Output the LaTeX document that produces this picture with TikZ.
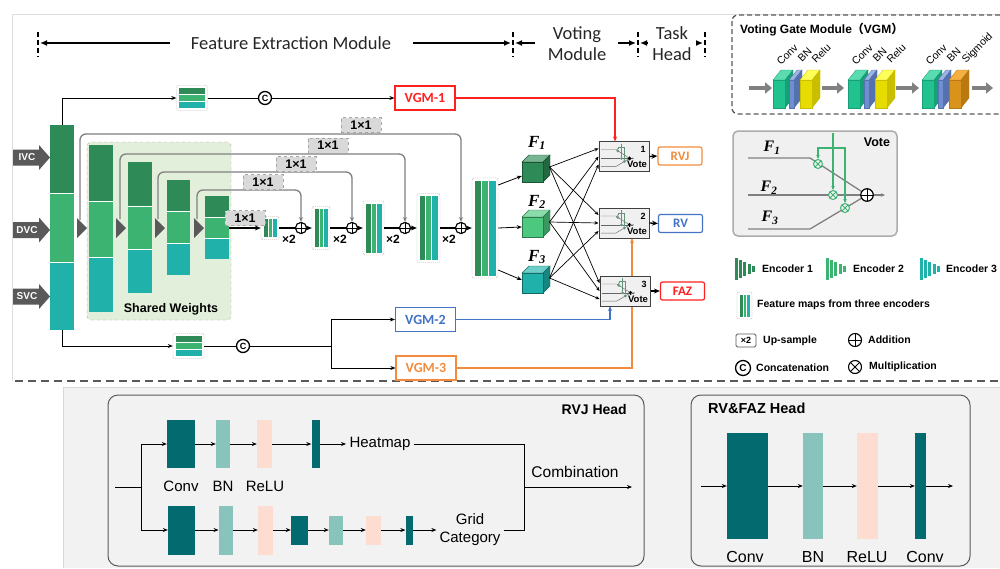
\documentclass[tikz,border=0pt]{standalone}
\usepackage{fontspec}
\setmainfont{Liberation Sans}
\newfontfamily\calfont{Carlito}
\newfontfamily\tnrfont{Liberation Serif}
\newfontfamily\cjkfont{Noto Sans CJK SC}
\usetikzlibrary{arrows.meta,calc}
\definecolor{dg}{HTML}{2E8B57}
\definecolor{mg}{HTML}{3CB371}
\definecolor{tl}{HTML}{20B2AA}
\definecolor{fg}{HTML}{4CC97E}
\definecolor{ag}{HTML}{595959}
\definecolor{sk}{HTML}{7F7F7F}
\definecolor{swf}{HTML}{E2EFDA}
\definecolor{obox}{HTML}{D9D9D9}
\definecolor{vred}{HTML}{FF2020}
\definecolor{vblue}{HTML}{4472C4}
\definecolor{vorange}{HTML}{F28C3C}
\definecolor{vg}{HTML}{3CB371}
\definecolor{hdk}{HTML}{036B70}
\definecolor{hlt}{HTML}{88C4BC}
\definecolor{hpk}{HTML}{FDDCD2}
\definecolor{bgp}{HTML}{F2F2F2}
\definecolor{cv}{HTML}{21C28E}
\definecolor{cvt}{HTML}{5ADBB0}
\definecolor{cvs}{HTML}{17A077}
\definecolor{bn}{HTML}{6F8FD0}
\definecolor{bnt}{HTML}{9DB3E3}
\definecolor{bns}{HTML}{5572AE}
\definecolor{rl}{HTML}{E6DC00}
\definecolor{rlt}{HTML}{FFFF5A}
\definecolor{rls}{HTML}{C9BF00}
\definecolor{sg}{HTML}{D9931A}
\definecolor{sgt}{HTML}{F5B041}
\definecolor{sgs}{HTML}{B87A10}

\newcommand{\fmap}[5]{%
  \node[fmbox, minimum width=#4pt, minimum height=#5pt] (#1) at (#2,#3) {};
  \pgfmathsetmacro{\fmX}{#2-#4/2+2.5}%
  \pgfmathsetmacro{\fmW}{(#4-5)/3}%
  \pgfmathsetmacro{\fmY}{#3-#5/2+2.5}%
  \pgfmathsetmacro{\fmH}{#5-5}%
  \fill[dg] (\fmX,\fmY) rectangle ++(\fmW,\fmH);
  \fill[mg] (\fmX+\fmW,\fmY) rectangle ++(\fmW,\fmH);
  \fill[tl] (\fmX+2*\fmW,\fmY) rectangle ++(\fmW,\fmH);
  \draw[white, line width=0.5pt] (\fmX+\fmW,\fmY) -- ++(0,\fmH) (\fmX+2*\fmW,\fmY) -- ++(0,\fmH);
}
\newcommand{\ladder}[3]{%
  \node[fmbox, minimum width=31pt, minimum height=25pt] (#1) at (#2,#3) {};
  \fill[dg] (#2-13,#3-10) rectangle (#2+13,#3-3.8);
  \fill[mg] (#2-13,#3-3.2) rectangle (#2+13,#3+3.2);
  \fill[tl] (#2-13,#3+3.8) rectangle (#2+13,#3+10);
}
\newcommand{\fcube}[4]{%
  \pgfmathsetmacro{\cL}{#2-10.5}\pgfmathsetmacro{\cR}{#2+10.5}%
  \pgfmathsetmacro{\cT}{#3-10}\pgfmathsetmacro{\cB}{#3+10}%
  \fill[#4!65!white, draw=#4!60!black, line width=0.4pt] (\cL,\cT) -- ++(7,-7) -- ++(21,0) -- (\cR,\cT) -- cycle;
  \fill[#4!75!black, draw=#4!60!black, line width=0.4pt] (\cR,\cT) -- ++(7,-7) -- ++(0,20) -- (\cR,\cB) -- cycle;
  \node[draw=#4!60!black, fill=#4, minimum width=21pt, minimum height=20pt, inner sep=0pt, line width=0.4pt] (#1) at (#2,#3) {};
  \coordinate (#1o) at (#2+17,#3-5);
}
\newcommand{\votecontent}{%
  \draw[vln] (0,25) -- (62,25) -- (119,62);
  \draw[vln] (0,62) -- (119,62);
  \draw[vln] (0,96) -- (62,96) -- (119,62);
  \draw[vln,vtip] (119,62) -- (137,62);
  \draw[vgl,vtip] (85,0) -- (85,57);
  \draw[vgl,vtip] (85,15) -- (70,15) -- (70,26);
  \draw[vgl,vtip] (85,15) -- (97,15) -- (97,70);
  \node[vml] at (70,31) {};
  \node[vml] at (85,62) {};
  \node[vml] at (97,75) {};
  \node[vpl] at (119,62) {};
}
\newcommand{\votebx}[4]{%
  \node[votebox] (#1) at (#2,#3) {};
  \begin{scope}[shift={(#2-23,#3-13)}, x=0.24pt, y=-0.24pt,
    vln/.style={draw=gray!80!black, line width=0.45pt},
    vgl/.style={draw=gray!60!vg, line width=0.45pt},
    vtip/.style={-{Stealth[length=1.6pt,width=1.4pt]}},
    vml/.style={muln=gray!60!vg, minimum size=2.6pt, line width=0.3pt},
    vpl/.style={plusn=black, minimum size=3.6pt, line width=0.35pt}]
    \votecontent
  \end{scope}
  \node[font=\bfseries\fontsize{9}{9}\selectfont, inner sep=0pt] at (#2+19,#3-7) {#4};
  \node[font=\bfseries\fontsize{9.5}{10}\selectfont, inner sep=0pt] at (#2+13,#3+8) {Vote};
}
\newcommand{\slab}[5]{%
  \fill[#4, draw=#5, line width=0.3pt] (#1,80) -- ++(8,-10) -- ++(#2,0) -- ++(-8,10) -- cycle;
  \fill[#5, draw=#5, line width=0.3pt] (#1+#2,80) -- ++(8,-10) -- ++(0,28) -- ++(-8,10) -- cycle;
  \fill[#3, draw=#5, line width=0.3pt] (#1,80) rectangle ++(#2,28);
}
\newcommand{\encicon}[3]{%
  \foreach \i/\h in {0/22,1/18,2/14,3/10,4/6} {\fill[#3] (#1+\i*4.2,#2-\h/2) rectangle ++(3,\h);}
}

\begin{document}
\begin{tikzpicture}[x=1pt,y=-1pt,
  ar/.style={-{Stealth[length=5pt,width=4pt]}, line width=0.8pt},
  tharr/.style={-{Stealth[length=6pt,width=5pt]}, line width=1.6pt},
  hdarr/.style={-{Latex[length=7pt,width=6pt]}, line width=2pt},
  hmark/.style={line width=2pt, dash pattern=on 5pt off 3pt},
  skipl/.style={draw=sk, line width=1.3pt, rounded corners=6pt, -{Stealth[length=5pt,width=4pt]}},
  onebox/.style={draw=gray!70, dashed, fill=obox, inner sep=0pt, font=\bfseries\fontsize{12.5}{13}\selectfont, minimum width=40pt, minimum height=15pt},
  fmbox/.style={draw=gray!80, dash pattern=on 1pt off 1pt, rounded corners=2pt, fill=white, inner sep=0pt},
  plusn/.style={circle, draw=#1, fill=white, inner sep=0pt, path picture={\draw[#1, line width=0.9pt] (path picture bounding box.north) -- (path picture bounding box.south) (path picture bounding box.west) -- (path picture bounding box.east);}},
  plusn/.default=black,
  muln/.style={circle, draw=#1, fill=white, inner sep=0pt, path picture={\draw[#1, line width=0.9pt] (path picture bounding box.north west) -- (path picture bounding box.south east) (path picture bounding box.north east) -- (path picture bounding box.south west);}},
  muln/.default=black,
  cnode/.style={circle, draw, fill=white, line width=1.3pt, minimum size=13pt, inner sep=0pt, font=\bfseries\fontsize{9}{9}\selectfont},
  votebox/.style={draw=black!75, fill=gray!12, line width=1pt, minimum width=50pt, minimum height=30pt, inner sep=0pt},
  outbox/.style={draw=#1, text=#1, line width=1.2pt, rounded corners=2pt, fill=white, font=\calfont\bfseries\fontsize{13}{13}\selectfont, minimum width=44pt, minimum height=18pt, inner sep=0pt},
  vgmbox/.style={draw=#1, text=#1, line width=1.2pt, fill=white, font=\calfont\bfseries\fontsize{14}{14}\selectfont, minimum width=60pt, minimum height=24pt, inner sep=0pt},
  hdr/.style={font=\calfont\fontsize{18.5}{21}\selectfont, text=black!85, align=center},
  leg/.style={anchor=west, font=\bfseries\fontsize{10.5}{11}\selectfont, inner sep=0pt},
  flab/.style={font=\tnrfont\bfseries\itshape\fontsize{17}{17}\selectfont},
  hblk/.style={inner sep=0pt, draw=none},
  hlab/.style={font=\fontsize{15}{18}\selectfont, align=center}
]
\useasboundingbox (0,0) rectangle (1000,568);
\fill[white] (0,0) rectangle (1000,568);

% ---------- frames ----------
\draw[gray!25, line width=1pt] (1000,14) -- (12,14) -- (12,381);
\fill[bgp] (63,387) rectangle (1000,568);
\draw[gray!30, line width=0.6pt] (63,568) -- (63,387) -- (1000,387);
\draw[ag, line width=1.8pt, dash pattern=on 8pt off 5pt] (15,381) -- (1000,381);

% ---------- header ----------
\draw[hmark] (38,32) -- (38,57);
\draw[hmark] (513,32) -- (513,57);
\draw[hmark] (638,32) -- (638,57);
\draw[hmark] (705,32) -- (705,57);
\node[hdr] (fem) at (291,43) {Feature Extraction Module};
\node[hdr] (vmod) at (577,44) {Voting\\Module};
\node[hdr] (thead) at (672,44) {Task\\Head};
\coordinate (m1) at (40,43); \coordinate (m2a) at (511,43); \coordinate (m2b) at (515,43);
\coordinate (m3a) at (636,43); \coordinate (m3b) at (640,43); \coordinate (m4) at (703,43);
\draw[hdarr] (170,43) -- (m1);
\draw[hdarr] (413,43) -- (m2a);
\draw[hdarr] (535,43) -- (m2b);
\draw[hdarr] (618,43) -- (m3a);
\draw[hdarr] (648,43) -- (m3b);
\draw[hdarr] (696,43) -- (m4);

% ---------- shared weights ----------
\node[draw=gray!70, dashed, fill=swf, rounded corners=4pt, minimum width=144pt, minimum height=178pt, inner sep=0pt] (sw) at (159,231) {};
\node[font=\bfseries\fontsize{12.5}{13}\selectfont] (swt) at (171,309) {Shared Weights};

% ---------- skip connections ----------
\node[plusn, minimum size=11pt, line width=1pt] (p1) at (301,228) {};
\node[plusn, minimum size=11pt, line width=1pt] (p2) at (352,228) {};
\node[plusn, minimum size=11pt, line width=1pt] (p3) at (405,228) {};
\node[plusn, minimum size=11pt, line width=1pt] (p4) at (461,228) {};
\coordinate (s1) at (80,220); \coordinate (s2) at (120,219);
\coordinate (s3) at (158,219); \coordinate (s4) at (197,219);
\draw[skipl] (s1) -- (80,134) -- (461,134) -- (p4.north);
\draw[skipl] (s2) -- (120,154) -- (405,154) -- (p3.north);
\draw[skipl] (s3) -- (158,172) -- (352,172) -- (p2.north);
\draw[skipl] (s4) -- (197,190) -- (301,190) -- (p1.north);
\node[onebox] (k1) at (361,125) {1×1};
\node[onebox] (k2) at (328,145.5) {1×1};
\node[onebox] (k3) at (296,164) {1×1};
\node[onebox] (k4) at (263,182) {1×1};

% ---------- input column and arrows ----------
\node[hblk, fill=dg, minimum width=24pt, minimum height=68pt] (in1) at (62,159) {};
\node[hblk, fill=mg, minimum width=24pt, minimum height=69pt] (in2) at (62,227.5) {};
\node[hblk, fill=tl, minimum width=24pt, minimum height=68pt] (in3) at (62,296) {};
\draw[white, line width=0.6pt] (50,193) -- (74,193) (50,262) -- (74,262);
\foreach \yy/\tt in {157.5/IVC,230/DVC,296.5/SVC} {
  \fill[ag] (13,\yy-8) -- (39,\yy-8) -- (39,\yy-12.5) -- (50,\yy) -- (39,\yy+12.5) -- (39,\yy+8) -- (13,\yy+8) -- cycle;
  \node[text=white, font=\bfseries\fontsize{10}{10}\selectfont, inner sep=0pt] (lab\tt) at (27,\yy) {\tt};
}

% ---------- encoder columns ----------
\foreach \xa/\xb/\ya/\yb/\yc/\yd in {89/113/145/201/257/312, 128/152/162/206/249/293, 167/190/180/211/243/275, 205/229/196/217/238/259} {
  \fill[dg] (\xa,\ya) rectangle (\xb,\yb);
  \fill[mg] (\xa,\yb) rectangle (\xb,\yc);
  \fill[tl] (\xa,\yc) rectangle (\xb,\yd);
  \draw[white, line width=0.6pt] (\xa,\yb) -- (\xb,\yb) (\xa,\yc) -- (\xb,\yc);
}
\foreach \tx in {77,116,155,194} { \fill[ag] (\tx,218) -- (\tx+10,228) -- (\tx,238) -- cycle; }

% ---------- decoder ----------
\coordinate (c4o) at (229,228);
\fmap{b1}{270}{228}{18}{23}
\fmap{b2}{321}{228}{18}{43}
\fmap{b3}{373.5}{228}{21}{54}
\fmap{b4}{428.5}{228}{23}{69}
\fmap{b5}{485}{228}{26}{100}
\node[onebox] (k5) at (245,218) {1×1};
\draw[tharr] (c4o) -- (b1.west);
\draw[tharr] (b1.east) -- (b2.west);
\draw[tharr] (b2.east) -- (b3.west);
\draw[tharr] (b3.east) -- (b4.west);
\draw[tharr] (b4.east) -- (b5.west);
\foreach \pp in {p1,p2,p3,p4} { \node[plusn, minimum size=11pt, line width=1pt] at (\pp) {}; }
\foreach \xx in {289,340,393,449} { \node[font=\bfseries\fontsize{12}{12}\selectfont, inner sep=0pt] at (\xx,239) {×2}; }

% ---------- concat branches ----------
\ladder{lad1}{192}{98}
\ladder{lad2}{188.5}{346}
\node[cnode] (c1) at (265,98) {C};
\node[cnode] (c2) at (243,346) {C};
\node[vgmbox=vred] (vgm1) at (425,98) {VGM-1};
\node[vgmbox=vblue] (vgm2) at (425.5,319.5) {VGM-2};
\node[vgmbox=vorange] (vgm3) at (426,368) {VGM-3};
\draw[ar, line width=1pt] (in1.north) |- (lad1.west);
\draw[line width=1pt] (lad1.east) -- (c1.west);
\draw[ar, line width=1pt] (c1.east) -- (vgm1.west);
\draw[ar, line width=1pt] (in3.south) |- (lad2.west);
\draw[line width=1pt] (lad2.east) -- (c2.west);
\coordinate (sp) at (331,346);
\draw[line width=1pt] (c2.east) -- (sp);
\draw[ar, line width=1pt] (sp) |- (vgm2.west);
\draw[ar, line width=1pt] (sp) |- (vgm3.west);

% ---------- cubes ----------
\fcube{F1}{532.5}{172}{dg}
\fcube{F2}{532.5}{227}{fg}
\fcube{F3}{532.5}{283}{tl}
\node[flab] (F1l) at (537,143) {F\textsubscript{1}};
\node[flab] (F2l) at (537,202) {F\textsubscript{2}};
\node[flab] (F3l) at (537,257) {F\textsubscript{3}};
\draw[ar] ($(b5.east)+(0,-43)$) -- ($(F1.west)+(0,4)$);
\draw[ar] (b5.east) -- (F2.west);
\draw[ar] ($(b5.east)+(0,42)$) -- ($(F3.west)+(0,-3)$);

% ---------- gate lines ----------
\draw[vorange, line width=1.2pt, -{Stealth[length=5pt,width=4pt]}] (vgm3.east) -| (632,238);
\draw[vred, line width=1.2pt, -{Stealth[length=5pt,width=4pt]}] (vgm1.east) -| (615,141.5);
\draw[vblue, line width=1.2pt, -{Stealth[length=5pt,width=4pt]}] (vgm2.east) -| (610,306);

% ---------- votes ----------
\votebx{v1}{624}{156.5}{1}
\votebx{v2}{624}{223}{2}
\votebx{v3}{625}{291}{3}
\foreach \f/\fy in {1/-8,2/0,3/8} {
  \foreach \v in {v1,v2,v3} {
    \draw[-{Stealth[length=4pt,width=3.5pt]}, line width=0.7pt] (F\f o) -- ($(\v.west)+(0,\fy)$);
  }
}
\node[outbox=vorange] (rvj) at (680,156) {RVJ};
\node[outbox=vblue] (rv) at (680.5,223.5) {RV};
\node[outbox=vred] (faz) at (682.5,291) {FAZ};
\draw[tharr, line width=1.3pt] (v1.east) -- (rvj.west);
\draw[tharr, line width=1.3pt] (v2.east) -- (rv.west);
\draw[tharr, line width=1.3pt] (v3.east) -- (faz.west);

% ---------- VGM module ----------
\draw[ag, line width=1.3pt, dash pattern=on 5pt off 3pt, rounded corners=6pt] (732,15) rectangle (1006,114);
\node[anchor=west, font=\bfseries\fontsize{12}{12}\selectfont, inner sep=0pt] (vgmt) at (740,30) {Voting Gate Module{\cjkfont （}VGM{\cjkfont ）}};
\foreach \ax/\bx in {749/772,822/844,896/919,972/993} {
  \draw[gray, line width=3.5pt, -{Triangle[length=7pt,width=11pt]}] (\ax,88) -- (\bx,88);
}
\slab{773}{12}{cv}{cvt}{cvs}
\slab{789}{5}{bn}{bnt}{bns}
\slab{800}{12}{rl}{rlt}{rls}
\slab{848}{12}{cv}{cvt}{cvs}
\slab{864}{5}{bn}{bnt}{bns}
\slab{875}{12}{rl}{rlt}{rls}
\slab{922}{12}{cv}{cvt}{cvs}
\slab{938}{5}{bn}{bnt}{bns}
\slab{949}{12}{sg}{sgt}{sgs}
\foreach \lx/\ly/\lt in {781/66/Conv,802/63/BN,816/64/Relu,856/66/Conv,877/63/BN,891/64/Relu,930/66/Conv,951/63/BN,966/64/Sigmoid} {
  \node[rotate=45, anchor=base west, inner sep=0pt, font=\fontsize{10.5}{11}\selectfont] at (\lx,\ly) {\lt};
}

% ---------- Vote detail ----------
\node[draw=gray!65, fill=gray!12, rounded corners=5pt, line width=1.5pt, minimum width=164pt, minimum height=105pt, inner sep=0pt] (vdet) at (815,183.5) {};
\node[font=\bfseries\fontsize{12.5}{13}\selectfont, inner sep=0pt] (vdett) at (877,142) {Vote};
\begin{scope}[shift={(748,133)},
    vln/.style={draw=gray, line width=1.3pt},
    vgl/.style={draw=vg, line width=1.3pt},
    vtip/.style={-{Stealth[length=4pt,width=3.5pt]}},
    vml/.style={muln=vg, minimum size=9pt, line width=1pt, fill=gray!12},
    vpl/.style={plusn=black, minimum size=12.5pt, line width=1.2pt}]
  \votecontent
\end{scope}
\node[flab, font=\tnrfont\bfseries\itshape\fontsize{16}{16}\selectfont] (d1) at (772,148) {F\textsubscript{1}};
\node[flab, font=\tnrfont\bfseries\itshape\fontsize{16}{16}\selectfont] (d2) at (769,188) {F\textsubscript{2}};
\node[flab, font=\tnrfont\bfseries\itshape\fontsize{16}{16}\selectfont] (d3) at (770,218) {F\textsubscript{3}};

% ---------- legend ----------
\encicon{735}{269}{dg}
\node[leg] (le1) at (762,269) {Encoder 1};
\encicon{826}{269}{mg}
\node[leg] (le2) at (853,269) {Encoder 2};
\encicon{920}{269}{tl}
\node[leg] (le3) at (946,269) {Encoder 3};
\fmap{lfm}{744.5}{305.5}{15}{27}
\node[leg] (lfmt) at (757,305) {Feature maps from three encoders};
\node[draw=ag, line width=0.8pt, rounded corners=1.5pt, minimum width=20pt, minimum height=13pt, inner sep=0pt, font=\bfseries\fontsize{9}{9}\selectfont] (lup) at (746,340.5) {×2};
\node[leg] (lupt) at (763,341) {Up-sample};
\node[plusn, minimum size=13pt, line width=1.1pt] (ladd) at (855,340) {};
\node[leg] (laddt) at (868,340) {Addition};
\node[cnode, minimum size=15pt, font=\bfseries\fontsize{10}{10}\selectfont] (lcat) at (743,368) {C};
\node[leg] (lcatt) at (756,368) {Concatenation};
\node[muln, minimum size=13pt, line width=1.1pt] (lmul) at (855,367) {};
\node[leg] (lmult) at (869,367) {Multiplication};

% ---------- RVJ head ----------
\draw[ag, line width=1pt, rounded corners=10pt, fill=bgp] (108,395) rectangle (644,566);
\node[anchor=east, font=\bfseries\fontsize{14}{14}\selectfont, inner sep=0pt] (rvjt) at (627,409) {RVJ Head};
\node[hblk, fill=hdk, minimum width=28pt, minimum height=48pt] (uc1) at (181,444) {};
\node[hblk, fill=hlt, minimum width=13.5pt, minimum height=48pt] (ubn) at (222.75,444) {};
\node[hblk, fill=hpk, minimum width=14.5pt, minimum height=48pt] (urelu) at (264.3,444) {};
\node[hblk, fill=hdk, minimum width=8pt, minimum height=48pt] (uc2) at (315.5,444) {};
\node[hlab] (heat) at (380,444) {Heatmap};
\node[hblk, fill=hdk, minimum width=27pt, minimum height=49pt] (lc1) at (181.5,530) {};
\node[hblk, fill=hlt, minimum width=14.5pt, minimum height=49pt] (lbn) at (226,530) {};
\node[hblk, fill=hpk, minimum width=15pt, minimum height=49pt] (lrelu) at (265.5,530) {};
\node[hblk, fill=hdk, minimum width=17pt, minimum height=29pt] (lc2) at (299.5,530) {};
\node[hblk, fill=hlt, minimum width=14pt, minimum height=29pt] (lbn2) at (336,530) {};
\node[hblk, fill=hpk, minimum width=15pt, minimum height=29pt] (lrelu2) at (373.5,530) {};
\node[hblk, fill=hdk, minimum width=7.5pt, minimum height=29pt] (lc3) at (409.3,530) {};
\node[hlab, inner sep=3pt] (grid) at (470,530) {Grid\\Category};
\node[hlab] (lconv) at (181,486) {Conv};
\node[hlab] (lbnl) at (223,486) {BN};
\node[hlab] (lrl) at (265,486) {ReLU};
\coordinate (hin) at (115,487);
\coordinate (hsp) at (141,487);
\draw[line width=0.9pt] (hin) -- (hsp);
\draw[ar] (hsp) |- (uc1.west);
\draw[ar] (hsp) |- (lc1.west);
\draw[ar] (uc1.east) -- (ubn.west);
\draw[ar] (ubn.east) -- (urelu.west);
\draw[ar] (urelu.east) -- (uc2.west);
\draw[ar] (uc2.east) -- (heat.west);
\draw[ar] (lc1.east) -- (lbn.west);
\draw[ar] (lbn.east) -- (lrelu.west);
\draw[ar] (lrelu.east) -- (lc2.west);
\draw[ar] (lc2.east) -- (lbn2.west);
\draw[ar] (lbn2.east) -- (lrelu2.west);
\draw[ar] (lrelu2.east) -- (lc3.west);
\draw[ar] (lc3.east) -- (grid.west);
\coordinate (cmb) at (524,487);
\coordinate (cmbout) at (632,487);
\draw[line width=0.9pt] (heat.east) -| (cmb);
\draw[line width=0.9pt] (grid.east) -| (cmb);
\draw[ar] (cmb) -- (cmbout);
\node[hlab, font=\fontsize{15.5}{16}\selectfont] (combt) at (575,472) {Combination};

% ---------- RV&FAZ head ----------
\draw[ag, line width=1pt, rounded corners=10pt, fill=bgp] (691,395) rectangle (970,566);
\node[anchor=west, font=\bfseries\fontsize{14.5}{15}\selectfont, inner sep=0pt] (rvft) at (708,408) {RV\&FAZ Head};
\node[hblk, fill=hdk, minimum width=41pt, minimum height=106pt] (rc1) at (747.5,486) {};
\node[hblk, fill=hlt, minimum width=20pt, minimum height=106pt] (rbn) at (813,486) {};
\node[hblk, fill=hpk, minimum width=21pt, minimum height=106pt] (rrelu) at (867.5,486) {};
\node[hblk, fill=hdk, minimum width=11pt, minimum height=106pt] (rc2) at (920.5,486) {};
\coordinate (rin) at (701,486);
\coordinate (rout) at (953,486);
\draw[ar] (rin) -- (rc1.west);
\draw[ar] (rc1.east) -- (rbn.west);
\draw[ar] (rbn.east) -- (rrelu.west);
\draw[ar] (rrelu.east) -- (rc2.west);
\draw[ar] (rc2.east) -- (rout);
\node[hlab, font=\fontsize{16}{16}\selectfont] (rl1) at (745,557) {Conv};
\node[hlab, font=\fontsize{16}{16}\selectfont] (rl2) at (813,557) {BN};
\node[hlab, font=\fontsize{16}{16}\selectfont] (rl3) at (867,557) {ReLU};
\node[hlab, font=\fontsize{16}{16}\selectfont] (rl4) at (925,557) {Conv};
\end{tikzpicture}
\end{document}
